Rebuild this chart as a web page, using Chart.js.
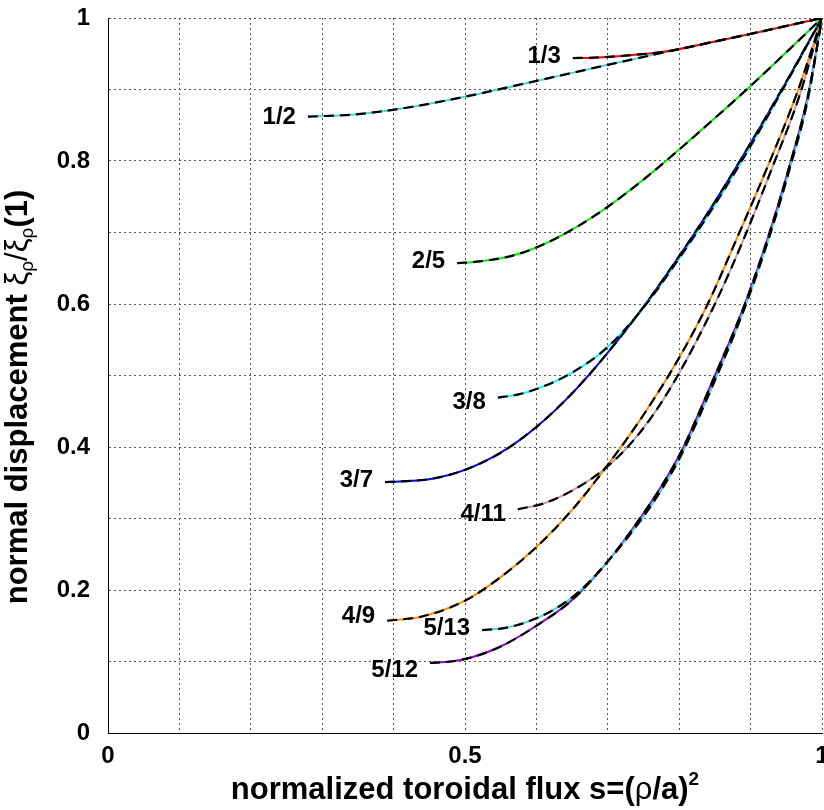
<!DOCTYPE html>
<html>
<head>
<meta charset="utf-8">
<script src="https://cdn.jsdelivr.net/npm/chart.js@4.4.1/dist/chart.umd.min.js"></script>
<style>
  body { margin: 0; background: #fff; }
  #wrap { width: 824px; height: 810px; }
</style>
</head>
<body>
<div id="wrap"><canvas id="modeChart" width="824" height="810"></canvas></div>
<script>
// normalized toroidal flux s and normal displacement xi/xi(1), per mode m/n
const s_1_3 = [0.651, 0.68, 0.72, 0.78, 0.85, 0.92, 1.0];
const xi_1_3 = [0.944, 0.9445, 0.947, 0.953, 0.967, 0.982, 1.0];

const s_1_2 = [0.280, 0.35, 0.42, 0.50, 0.60, 0.70, 0.80, 0.90, 1.0];
const xi_1_2 = [0.862, 0.8655, 0.8748, 0.890, 0.912, 0.9345, 0.9565, 0.978, 1.0];

const s_2_5 = [0.489, 0.52, 0.56, 0.60, 0.65, 0.70, 0.75, 0.80, 0.85, 0.90, 0.95, 1.0];
const xi_2_5 = [0.657, 0.6595, 0.666, 0.679, 0.704, 0.736, 0.774, 0.816, 0.860, 0.905, 0.952, 1.0];

const s_3_8 = [0.546, 0.575, 0.60, 0.65, 0.70, 0.75, 0.80, 0.85, 0.90, 0.95, 1.0];
const xi_3_8 = [0.469, 0.4736, 0.481, 0.504, 0.540, 0.595, 0.664, 0.739, 0.821, 0.909, 1.0];

const s_3_7 = [0.388, 0.45, 0.50, 0.55, 0.60, 0.65, 0.70, 0.75, 0.80, 0.85, 0.90, 0.95, 1.0];
const xi_3_7 = [0.351, 0.355, 0.368, 0.392, 0.428, 0.475, 0.532, 0.596, 0.667, 0.743, 0.825, 0.911, 1.0];

const s_4_11 = [0.574, 0.61, 0.65, 0.69, 0.725, 0.76, 0.798, 0.85, 0.89, 0.93, 0.968, 1.0];
const xi_4_11 = [0.313, 0.321, 0.339, 0.365, 0.397, 0.440, 0.50, 0.60, 0.69, 0.79, 0.89, 1.0];

const s_4_9 = [0.391, 0.44, 0.50, 0.55, 0.60, 0.65, 0.70, 0.75, 0.80, 0.84, 0.88, 0.925, 0.965, 1.0];
const xi_4_9 = [0.157, 0.163, 0.185, 0.218, 0.260, 0.312, 0.375, 0.445, 0.525, 0.60, 0.69, 0.795, 0.895, 1.0];

const s_5_13 = [0.524, 0.55, 0.58, 0.62, 0.66, 0.70, 0.745, 0.775, 0.8035, 0.85, 0.89, 0.925, 0.955, 0.98, 1.0];
const xi_5_13 = [0.144, 0.146, 0.153, 0.170, 0.198, 0.240, 0.296, 0.340, 0.390, 0.493, 0.59, 0.69, 0.79, 0.885, 1.0];

const s_5_12 = [0.451, 0.48, 0.51, 0.55, 0.60, 0.65, 0.70, 0.745, 0.775, 0.8035, 0.85, 0.89, 0.925, 0.955, 0.98, 1.0];
const xi_5_12 = [0.098, 0.100, 0.106, 0.121, 0.150, 0.186, 0.240, 0.300, 0.345, 0.395, 0.500, 0.595, 0.695, 0.795, 0.89, 1.0];

const modeLabels = ['1/3', '1/2', '2/5', '3/8', '3/7', '4/11', '4/9', '5/13', '5/12'];
const modeS = [s_1_3, s_1_2, s_2_5, s_3_8, s_3_7, s_4_11, s_4_9, s_5_13, s_5_12];
const modeXi = [xi_1_3, xi_1_2, xi_2_5, xi_3_8, xi_3_7, xi_4_11, xi_4_9, xi_5_13, xi_5_12];

const xTicksShown = [0, 0.5, 1];
const yTicksShown = [0, 0.2, 0.4, 0.6, 0.8, 1];

// styling
const lineColors = ['#ff0000', '#40d8d0', '#00ee00', '#00ffff', '#0000ff',
                    '#c0a0a0', '#ff8c00', '#40d8d0', '#9400d3'];
const labelShift = { '1/3': -2, '1/2': 1, '2/5': -2, '3/8': 5, '3/7': -2,
                     '4/11': 5, '4/9': -4, '5/13': -2, '5/12': 7 };
const FAMILY = "'Liberation Sans', Arial, sans-serif";

function pts(s, xi) {
    return s.map((v, i) => ({ x: v, y: xi[i] }));
}

const datasets = [];
modeLabels.forEach((lab, k) => {
    datasets.push({
        label: lab,
        data: pts(modeS[k], modeXi[k]),
        borderColor: lineColors[k],
        borderWidth: 2,
        pointRadius: 0,
        cubicInterpolationMode: 'monotone',
        order: 2
    });
});
// black dashed fits drawn on top
modeLabels.forEach((lab, k) => {
    datasets.push({
        label: lab + ' fit',
        data: pts(modeS[k], modeXi[k]),
        borderColor: '#000',
        borderWidth: 2.2,
        borderDash: [10, 6],
        pointRadius: 0,
        cubicInterpolationMode: 'monotone',
        order: 1
    });
});

function drawRich(ctx, segs, x, y) {
    let total = 0;
    segs.forEach(sg => { ctx.font = sg.font; total += ctx.measureText(sg.t).width; });
    let cx = x - total / 2;
    segs.forEach(sg => {
        ctx.font = sg.font;
        ctx.fillText(sg.t, cx, y + (sg.dy || 0));
        cx += ctx.measureText(sg.t).width;
    });
}

const annotate = {
    id: 'annotate',
    afterDatasetsDraw(chart) {
        const ctx = chart.ctx;
        ctx.save();
        ctx.fillStyle = '#000';
        ctx.font = 'bold 24px ' + FAMILY;
        ctx.textAlign = 'right';
        ctx.textBaseline = 'middle';
        modeLabels.forEach((lab, k) => {
            const first = chart.getDatasetMeta(k).data[0];
            ctx.fillText(lab, first.x - 12, first.y + (labelShift[lab] || 0));
        });
        ctx.restore();
    },
    afterDraw(chart) {
        const ctx = chart.ctx;
        const area = chart.chartArea;
        const bf = 'bold 31px ' + FAMILY;
        const rf = '31px ' + FAMILY;
        const sub = '19px ' + FAMILY;
        ctx.save();
        ctx.fillStyle = '#000';
        ctx.textAlign = 'left';
        ctx.textBaseline = 'alphabetic';
        drawRich(ctx, [
            { t: 'normalized toroidal flux s=(', font: bf },
            { t: 'ρ', font: rf },
            { t: '/a)', font: bf },
            { t: '2', font: 'bold 19px ' + FAMILY, dy: -14 }
        ], (area.left + area.right) / 2, 799);

        ctx.translate(27, 397);
        ctx.rotate(-Math.PI / 2);
        drawRich(ctx, [
            { t: 'normal displacement ', font: bf },
            { t: 'ξ', font: rf },
            { t: 'ρ', font: sub, dy: 6 },
            { t: '/', font: rf },
            { t: 'ξ', font: rf },
            { t: 'ρ', font: sub, dy: 6 },
            { t: '(1)', font: bf }
        ], 0, 0);
        ctx.restore();
    }
};

const gridStyle = { color: '#555', lineWidth: 1, drawTicks: false };
const tickFont = { family: FAMILY, size: 24, weight: 'bold' };

new Chart(document.getElementById('modeChart'), {
    type: 'line',
    data: { datasets: datasets },
    options: {
        responsive: false,
        animation: false,
        events: [],
        layout: { padding: { top: 18, right: 2, left: 0, bottom: 0 } },
        plugins: { legend: { display: false }, tooltip: { enabled: false } },
        scales: {
            x: {
                type: 'linear',
                min: 0,
                max: 1,
                grid: gridStyle,
                border: { display: true, color: '#000', width: 1, dash: [2, 3] },
                ticks: {
                    stepSize: 0.1,
                    padding: 9,
                    color: '#000',
                    font: tickFont,
                    maxRotation: 0,
                    autoSkip: false,
                    callback: v => {
                        const hit = xTicksShown.find(t => Math.abs(t - v) < 1e-6);
                        return hit === undefined ? '' : String(hit);
                    }
                },
                afterFit: scale => {
                    scale.height = 77;
                    scale.paddingLeft = 0;
                    scale.paddingRight = 0;
                }
            },
            y: {
                min: 0,
                max: 1,
                grid: gridStyle,
                border: { display: true, color: '#000', width: 1, dash: [2, 3] },
                ticks: {
                    stepSize: 0.1,
                    padding: 18,
                    color: '#000',
                    font: tickFont,
                    autoSkip: false,
                    callback: v => {
                        const hit = yTicksShown.find(t => Math.abs(t - v) < 1e-6);
                        return hit === undefined ? '' : String(hit);
                    }
                },
                afterFit: scale => {
                    scale.width = 108;
                    scale.paddingTop = 0;
                    scale.paddingBottom = 0;
                }
            }
        }
    },
    plugins: [annotate]
});
</script>
</body>
</html>
